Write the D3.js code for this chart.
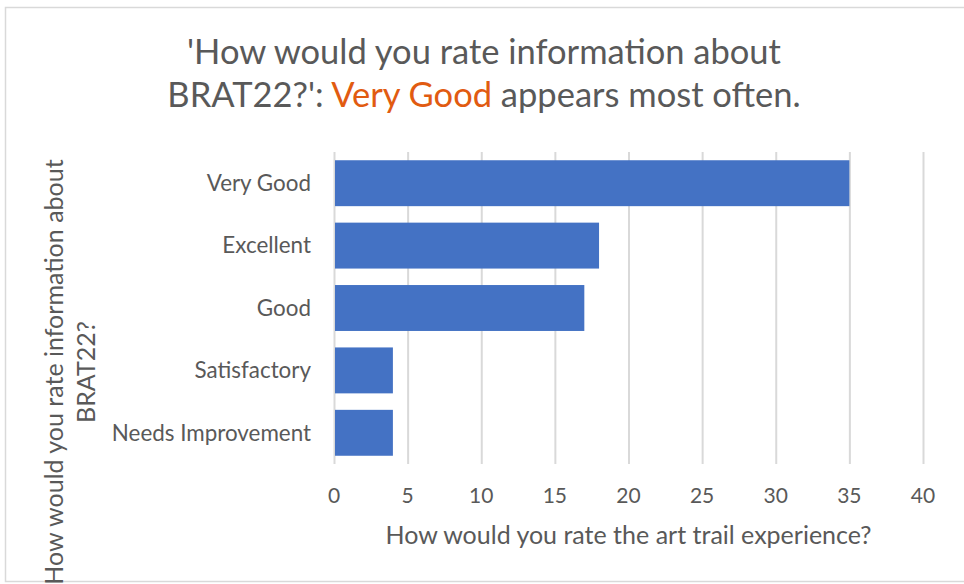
<!DOCTYPE html>
<html>
<head>
<meta charset="utf-8">
<script src="https://cdn.jsdelivr.net/npm/d3@7"></script>
<style>
  body { margin: 0; background: #fff; }
  svg text { font-family: 'Lato', 'Open Sans', sans-serif; fill: #595959; }
  .grid line { stroke: #d9d9d9; stroke-width: 2px; }
  .grid .domain { display: none; }
</style>
</head>
<body>
<div id="chart"></div>
<script>
// Data
const categories = ['Very Good', 'Excellent', 'Good', 'Satisfactory', 'Needs Improvement'];
const counts = [35, 18, 17, 4, 4];
const xTicks = [0, 5, 10, 15, 20, 25, 30, 35, 40];
const titleLine1 = "'How would you rate information about";
const titlePre = "BRAT22?': ";
const titleHighlight = 'Very Good';
const titlePost = ' appears most often.';
const xTitle = 'How would you rate the art trail experience?';
const yTitleLines = ['How would you rate information about', 'BRAT22?'];

const W = 964, H = 584;
const plot = { left: 334, right: 923, top: 152, bottom: 464 };

const svg = d3.select('#chart').append('svg')
  .attr('width', W)
  .attr('height', H);

// chart border
svg.append('rect')
  .attr('x', 5.5).attr('y', 7.5)
  .attr('width', W + 10).attr('height', 574)
  .attr('fill', '#fff')
  .attr('stroke', '#d9d9d9')
  .attr('stroke-width', 1.5);

const x = d3.scaleLinear().domain([0, 40]).range([plot.left, plot.right]);
const y = d3.scaleBand().domain(categories)
  .range([plot.top, plot.bottom])
  .paddingInner(0.264)
  .paddingOuter(0.132);

// Gridlines
svg.append('g')
  .attr('class', 'grid')
  .attr('transform', `translate(0,${plot.bottom})`)
  .call(d3.axisBottom(x).tickValues(xTicks).tickSize(-(plot.bottom - plot.top)).tickFormat(''));

// Bars
svg.append('g')
  .selectAll('rect')
  .data(categories)
  .join('rect')
  .attr('x', x(0) + 1)
  .attr('y', d => y(d))
  .attr('width', (d, i) => x(counts[i]) - x(0) - 1)
  .attr('height', y.bandwidth())
  .attr('fill', '#4472c4');

// X tick labels
svg.append('g')
  .selectAll('text')
  .data(xTicks)
  .join('text')
  .attr('x', d => x(d))
  .attr('y', 503)
  .attr('text-anchor', 'middle')
  .style('font-size', '21px')
  .text(d => d);

// Category labels
svg.append('g')
  .selectAll('text')
  .data(categories)
  .join('text')
  .attr('x', 311)
  .attr('y', d => y(d) + y.bandwidth() / 2)
  .attr('dy', '0.35em')
  .attr('text-anchor', 'end')
  .style('font-size', '22.4px')
  .text(d => d);

// X axis title
svg.append('text')
  .attr('x', (plot.left + plot.right) / 2)
  .attr('y', 544)
  .attr('text-anchor', 'middle')
  .style('font-size', '25px')
  .text(xTitle);

// Y axis title
const yt = svg.append('text')
  .attr('transform', 'translate(0,372) rotate(-90)')
  .attr('text-anchor', 'middle')
  .style('font-size', '25px');
yTitleLines.forEach((t, i) => {
  yt.append('tspan').attr('x', 0).attr('y', 63 + i * 32).text(t);
});

// Title
const title = svg.append('text')
  .attr('text-anchor', 'middle')
  .style('font-size', '34.5px');
title.append('tspan').attr('x', 484).attr('y', 64).text(titleLine1);
const l2 = title.append('tspan').attr('x', 484).attr('y', 107);
l2.append('tspan').text(titlePre);
l2.append('tspan').style('fill', '#e15b11').text(titleHighlight);
l2.append('tspan').text(titlePost);
</script>
</body>
</html>
